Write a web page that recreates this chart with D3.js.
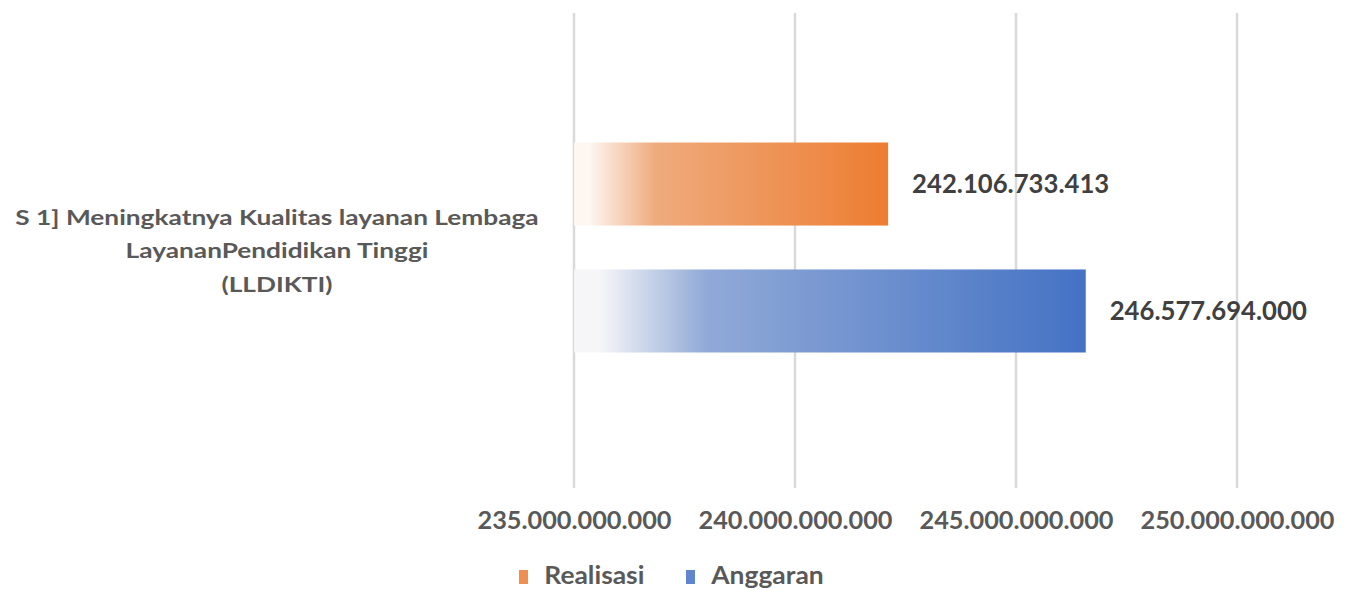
<!DOCTYPE html>
<html>
<head>
<meta charset="utf-8">
<script src="https://cdn.jsdelivr.net/npm/d3@7"></script>
<style>
  html, body { margin: 0; padding: 0; background: #fff; }
  svg { display: block; }
  text { font-family: Lato, "Open Sans", sans-serif; font-weight: 700; }
</style>
</head>
<body>
<svg id="chart" width="1352" height="590"></svg>
<script>
// Data
const categories = ["S 1] Meningkatnya Kualitas layanan Lembaga LayananPendidikan Tinggi (LLDIKTI)"];
const categoryLines = [["S 1] Meningkatnya Kualitas layanan Lembaga", "LayananPendidikan Tinggi", "(LLDIKTI)"]];
const seriesNames = ["Realisasi", "Anggaran"];
const realisasi = [242106733413];
const anggaran = [246577694000];
const tickValues = [235000000000, 240000000000, 245000000000, 250000000000];

const seriesValues = { Realisasi: realisasi, Anggaran: anggaran };
const seriesColors = {
  Realisasi: { start: "#fdf6f1", mid: "#efab7d", end: "#ed7d31" },
  Anggaran: { start: "#f6f6f8", mid: "#90a9d7", end: "#4472c4" }
};

const idLocale = d3.formatLocale({ decimal: ",", thousands: ".", grouping: [3], currency: ["Rp", ""] });
const fmt = idLocale.format(",.0f");

const svg = d3.select("#chart");
const plot = { left: 574, right: 1237, top: 13, bottom: 488 };

const x = d3.scaleLinear().domain([235e9, 250e9]).range([plot.left, plot.right]);
const y0 = d3.scaleBand().domain(categories).range([plot.top - 3, plot.bottom - 3]).paddingInner(0).paddingOuter(0.631);
const y1 = d3.scaleBand().domain(seriesNames).range([0, y0.bandwidth()]).paddingInner(0.346).paddingOuter(0);

// Gradients: pale at the bar's base, deepening toward its end
const defs = svg.append("defs");
seriesNames.forEach(s => {
  const g = defs.append("linearGradient").attr("id", "grad-" + s)
    .attr("x1", "0%").attr("x2", "100%").attr("y1", "0%").attr("y2", "0%");
  g.append("stop").attr("offset", "0%").attr("stop-color", seriesColors[s].start);
  g.append("stop").attr("offset", "5%").attr("stop-color", seriesColors[s].start);
  g.append("stop").attr("offset", "26%").attr("stop-color", seriesColors[s].mid);
  g.append("stop").attr("offset", "100%").attr("stop-color", seriesColors[s].end);
});

// Vertical gridlines
svg.append("g").selectAll("line").data(tickValues).join("line")
  .attr("x1", d => x(d)).attr("x2", d => x(d))
  .attr("y1", plot.top).attr("y2", plot.bottom)
  .attr("stroke", "#d9d9d9").attr("stroke-width", 2.5);

// Axis tick labels
const xAxis = d3.axisBottom(x).tickValues(tickValues).tickFormat(fmt).tickSize(0).tickPadding(0);
const axisG = svg.append("g").attr("transform", `translate(0,${plot.bottom})`).call(xAxis);
axisG.select(".domain").remove();
axisG.selectAll("text")
  .attr("y", 41).attr("dy", 0)
  .attr("fill", "#595959")
  .style("font-family", "Lato, sans-serif").style("font-weight", 700).style("font-size", "25.3px");

// Bars
const catG = svg.append("g").selectAll("g").data(categories).join("g")
  .attr("transform", d => `translate(0,${y0(d)})`);

catG.selectAll("rect").data((d, i) => seriesNames.map(s => ({ s, v: seriesValues[s][i] })))
  .join("rect")
  .attr("x", x(235e9))
  .attr("y", d => y1(d.s))
  .attr("width", d => x(d.v) - x(235e9))
  .attr("height", y1.bandwidth())
  .attr("fill", d => `url(#grad-${d.s})`);

// Value labels
catG.selectAll("text.val").data((d, i) => seriesNames.map(s => ({ s, v: seriesValues[s][i] })))
  .join("text").attr("class", "val")
  .attr("x", d => x(d.v) + 24)
  .attr("y", d => y1(d.s) + y1.bandwidth() / 2)
  .attr("dy", "0.35em")
  .attr("fill", "#404040")
  .style("font-size", "25.7px")
  .text(d => fmt(d.v));

// Category label (wrapped, centred, slightly widened)
const labelX = 277;
const catLabel = svg.append("g")
  .attr("transform", `translate(${labelX},0) scale(1.25,1) translate(${-labelX},0)`)
  .selectAll("text").data(categories).join("text")
  .attr("text-anchor", "middle")
  .attr("fill", "#595959")
  .style("font-size", "21px");
catLabel.each(function (d, i) {
  const lines = categoryLines[i];
  const mid = y0(d) + y0.bandwidth() / 2;
  const lh = 33.5;
  d3.select(this).selectAll("tspan").data(lines).join("tspan")
    .attr("x", labelX)
    .attr("y", (l, j) => mid - 30 + (j - (lines.length - 1) / 2) * lh + lh)
    .attr("dy", "0.35em")
    .text(l => l);
});

// Legend
const legend = svg.append("g").selectAll("g").data(seriesNames).join("g")
  .attr("transform", (d, i) => `translate(${[519, 686][i]},576)`);
legend.append("rect").attr("x", 0).attr("y", -6).attr("width", 9).attr("height", 14)
  .attr("fill", d => seriesColors[d].end).attr("opacity", 0.85);
legend.append("text").attr("x", 23).attr("y", 8)
  .attr("fill", "#595959").style("font-size", "24px")
  .attr("transform", "scale(1.1,1)")
  .text(d => d);
</script>
</body>
</html>
